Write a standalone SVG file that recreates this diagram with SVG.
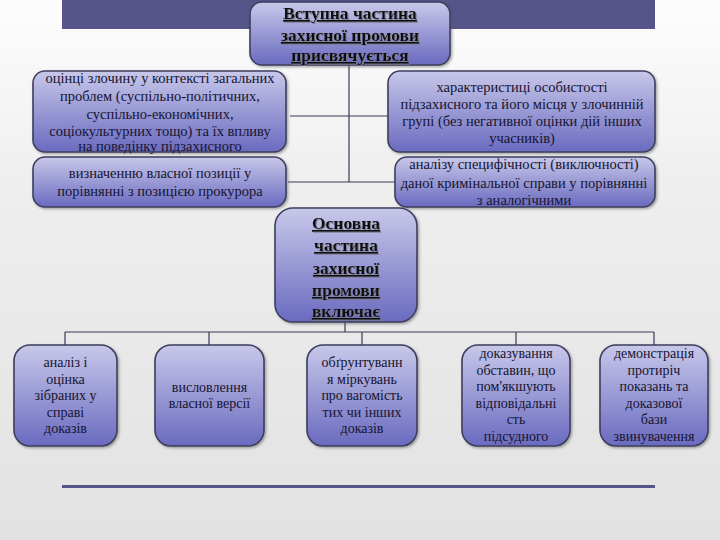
<svg xmlns="http://www.w3.org/2000/svg" width="720" height="540" viewBox="0 0 720 540">
<defs>
<linearGradient id="bg" x1="0" y1="0" x2="0" y2="1">
<stop offset="0" stop-color="#fdfdfd"/>
<stop offset="0.35" stop-color="#eeeeee"/>
<stop offset="1" stop-color="#e2e2e2"/>
</linearGradient>
<linearGradient id="boxg" x1="0" y1="0" x2="0" y2="1">
<stop offset="0" stop-color="#c8c8ea"/>
<stop offset="1" stop-color="#6a6ac0"/>
</linearGradient>
<filter id="ts" x="-10%" y="-20%" width="120%" height="140%">
<feDropShadow dx="1" dy="1" stdDeviation="0.4" flood-color="#7a7a8a" flood-opacity="0.9"/>
</filter>
<filter id="bs" x="-10%" y="-10%" width="125%" height="125%">
<feDropShadow dx="1.5" dy="1.5" stdDeviation="1" flood-color="#555" flood-opacity="0.5"/>
</filter>
</defs>
<style>
.box{fill:url(#boxg);stroke:#3e3e5e;stroke-width:1.6;filter:url(#bs)}
.t{font-family:"Liberation Serif","Times New Roman",serif;font-size:14.5px;fill:#151530;text-anchor:middle}
.s{font-size:14px}
.h{font-family:"Liberation Serif","Times New Roman",serif;font-size:17.5px;font-weight:bold;fill:#111;text-anchor:middle;text-decoration:underline;filter:url(#ts)}
.c{fill:none;stroke:#3a3a58;stroke-width:1.2}
</style>
<rect width="720" height="540" fill="url(#bg)"/>
<rect x="62" y="0" width="593" height="29" fill="#55558a"/>
<rect x="62" y="485" width="593" height="3" fill="#55558a"/>

<g id="connectors">
<path class="c" d="M349 65V182M290 116H388M288 182H395"/>
<path class="c" d="M345 322V332M65 332H654M65 332V345M209 332V345M362 332V345M516 332V345M654 332V345"/>
</g>

<g id="intro">
<rect class="box" x="250" y="2" width="200" height="63" rx="12"/>
<text class="h" x="350" y="19">Вступна частина</text>
<text class="h" x="350" y="41">захисної промови</text>
<text class="h" x="350" y="61">присвячується</text>
</g>

<g id="left1">
<rect class="box" x="33" y="71" width="253" height="81" rx="12"/>
<text class="t" x="160" y="83">оцінці злочину у контексті загальних</text>
<text class="t" x="160" y="101">проблем (суспільно-політичних,</text>
<text class="t" x="160" y="119">суспільно-економічних,</text>
<text class="t" x="160" y="136">соціокультурних тощо) та їх впливу</text>
<text class="t" x="160" y="151">на поведінку підзахисного</text>
</g>

<g id="left2">
<rect class="box" x="33" y="157" width="253" height="50" rx="12"/>
<text class="t" x="160" y="178">визначенню власної позиції у</text>
<text class="t" x="160" y="196">порівнянні з позицією прокурора</text>
</g>

<g id="right1">
<rect class="box" x="388" y="71" width="267" height="81" rx="12"/>
<text class="t" x="522" y="92">характеристиці особистості</text>
<text class="t" x="522" y="109">підзахисного та його місця у злочинній</text>
<text class="t" x="522" y="126">групі (без негативної оцінки дій інших</text>
<text class="t" x="522" y="143">учасників)</text>
</g>

<g id="right2">
<rect class="box" x="395" y="157" width="260" height="50" rx="12"/>
<text class="t" x="524" y="169">аналізу специфічності (виключності)</text>
<text class="t" x="524" y="188">даної кримінальної справи у порівнянні</text>
<text class="t" x="524" y="205">з аналогічними</text>
</g>

<g id="main">
<rect class="box" x="275" y="208" width="142" height="114" rx="18"/>
<text class="h" x="346" y="229">Основна</text>
<text class="h" x="346" y="251">частина</text>
<text class="h" x="346" y="274">захисної</text>
<text class="h" x="346" y="296">промови</text>
<text class="h" x="346" y="317">включає</text>
</g>

<g id="b1">
<rect class="box" x="14" y="345" width="103" height="101" rx="16"/>
<text class="t s" x="65.5" y="367">аналіз і</text>
<text class="t s" x="65.5" y="383.5">оцінка</text>
<text class="t s" x="65.5" y="400">зібраних у</text>
<text class="t s" x="65.5" y="416.5">справі</text>
<text class="t s" x="65.5" y="433">доказів</text>
</g>

<g id="b2">
<rect class="box" x="155" y="345" width="109" height="101" rx="16"/>
<text class="t s" x="209.5" y="392">висловлення</text>
<text class="t s" x="209.5" y="408">власної версії</text>
</g>

<g id="b3">
<rect class="box" x="307" y="345" width="110" height="101" rx="16"/>
<text class="t s" x="362" y="367">обґрунтуванн</text>
<text class="t s" x="362" y="383.5">я міркувань</text>
<text class="t s" x="362" y="400">про вагомість</text>
<text class="t s" x="362" y="416.5">тих чи інших</text>
<text class="t s" x="362" y="433">доказів</text>
</g>

<g id="b4">
<rect class="box" x="462" y="345" width="108" height="101" rx="16"/>
<text class="t s" x="516" y="358">доказування</text>
<text class="t s" x="516" y="374.5">обставин, що</text>
<text class="t s" x="516" y="391">пом'якшують</text>
<text class="t s" x="516" y="407.5">відповідальні</text>
<text class="t s" x="516" y="424">сть</text>
<text class="t s" x="516" y="440.5">підсудного</text>
</g>

<g id="b5">
<rect class="box" x="600" y="345" width="108" height="101" rx="16"/>
<text class="t s" x="654" y="358">демонстрація</text>
<text class="t s" x="654" y="374.5">протиріч</text>
<text class="t s" x="654" y="391">показань та</text>
<text class="t s" x="654" y="407.5">доказової</text>
<text class="t s" x="654" y="424">бази</text>
<text class="t s" x="654" y="440.5">звинувачення</text>
</g>
</svg>
